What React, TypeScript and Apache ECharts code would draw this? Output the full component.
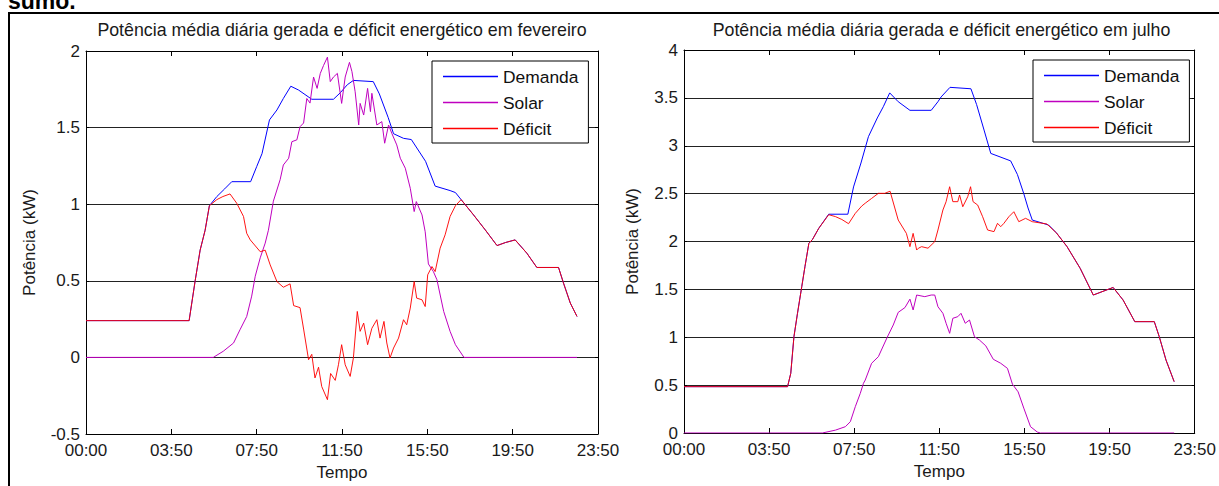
import React, { useEffect, useRef } from 'react';
import * as echarts from 'echarts';

const FONT = '"Liberation Sans", Arial, Helvetica, sans-serif';

// x values are 10-minute samples (0..144)
const xTickLabels = ['00:00', '03:50', '07:50', '11:50', '15:50', '19:50', '23:50'];
const seriesNames = ['Demanda', 'Solar', 'Déficit'];
const seriesColors = ['#0000ff', '#bf00bf', '#ff0000'];
const panelTitles = [
  'Potência média diária gerada e déficit energético em fevereiro',
  'Potência média diária gerada e déficit energético em julho',
];
const yAxisName = 'Potência (kW)';
const xAxisName = 'Tempo';
const yRanges = [
  [-0.5, 2],
  [0, 4],
];

const febDemanda = [
  [0, 0.24], [29, 0.24], [30.7, 0.5], [32.1, 0.7], [33.5, 0.83], [34.7, 0.99], [36.8, 1.05], [39, 1.1],
  [41, 1.147], [46.3, 1.147], [48, 1.245], [49.5, 1.33], [51.6, 1.55], [53.7, 1.615], [55.5, 1.69],
  [57.6, 1.77], [59.8, 1.745], [63.5, 1.685], [69.6, 1.685], [71.5, 1.727], [73.5, 1.78], [75.2, 1.808],
  [80.8, 1.8], [82.5, 1.72], [85, 1.565], [86.5, 1.46], [89.3, 1.43], [91.5, 1.422], [95.5, 1.28],
  [98.2, 1.118], [102.4, 1.089], [103.9, 1.076], [105.5, 1.03], [109, 0.93], [112.3, 0.832], [115.6, 0.73],
  [118, 0.75], [120.7, 0.767], [124, 0.68], [126.8, 0.587], [132.9, 0.587], [134.3, 0.485], [136.2, 0.355],
  [138.1, 0.267],
];

const febSolar = [
  [0, 0], [35.8, 0], [38.6, 0.04], [41.5, 0.094], [43.3, 0.18], [45.2, 0.267], [46.6, 0.4], [47.6, 0.53],
  [49, 0.65], [50.4, 0.746], [51.3, 0.83], [52.7, 1.02], [54.6, 1.16], [55.5, 1.256], [57, 1.3],
  [57.9, 1.408], [59.3, 1.42], [60.2, 1.506], [61.2, 1.53], [62.1, 1.69], [63, 1.66], [64, 1.83],
  [65, 1.756], [65.9, 1.854], [66.8, 1.905], [67.9, 1.96], [68.7, 1.8], [69.6, 1.83], [70.7, 1.854],
  [71.9, 1.658], [72.9, 1.83], [74.1, 1.926], [74.8, 1.865], [75.7, 1.734], [76.7, 1.517], [77.1, 1.658],
  [78.1, 1.582], [79.2, 1.756], [80, 1.604], [80.4, 1.724], [81.8, 1.517], [83.2, 1.539], [84, 1.398],
  [85.1, 1.517], [86, 1.463], [87.4, 1.387], [88.4, 1.3], [89.8, 1.235], [91.2, 1.104], [92.3, 0.952],
  [92.9, 1.017], [94.5, 0.93], [95.4, 0.82], [96.3, 0.61], [97.7, 0.56], [98.7, 0.507], [100.6, 0.3],
  [102.4, 0.17], [103.9, 0.083], [106.3, 0], [138.1, 0],
];

const febDeficit = [
  [0, 0.24], [29, 0.24], [30.7, 0.5], [32.1, 0.7], [33.5, 0.83], [34.7, 0.99], [36.8, 1.03], [38.5, 1.05],
  [40.5, 1.067], [42.4, 1.006], [44.3, 0.92], [45.2, 0.81], [46.2, 0.767], [49, 0.69], [50.4, 0.7],
  [51.8, 0.604], [53.7, 0.495], [55.5, 0.458], [57.4, 0.48], [58.4, 0.338], [60.2, 0.325], [61.2, 0.185],
  [62.6, -0.015], [63.5, 0.02], [64.4, -0.134], [65.4, -0.064], [66.3, -0.19], [67.9, -0.276],
  [68.8, -0.105], [70.1, -0.15], [71, -0.048], [71.9, 0.083], [72.9, -0.048], [74.3, -0.124],
  [75.2, -0.004], [76.3, 0.3], [77.1, 0.17], [78.1, 0.224], [79.2, 0.083], [80.4, 0.19], [81.8, 0.246],
  [82.7, 0.126], [83.8, 0.235], [84.6, 0.094], [85.5, -0.004], [86.5, 0.061], [87.9, 0.126], [89.3, 0.246],
  [90.2, 0.213], [91.2, 0.322], [92.3, 0.495], [93, 0.387], [94.5, 0.376], [95.4, 0.332], [96.1, 0.539],
  [97.3, 0.593], [98.2, 0.56], [99.6, 0.713], [101, 0.8], [102.4, 0.92], [103.9, 0.99], [105.5, 1.03],
  [109, 0.93], [112.3, 0.832], [115.6, 0.73], [118, 0.75], [120.7, 0.767], [124, 0.68], [126.8, 0.587],
  [132.9, 0.587], [134.3, 0.485], [136.2, 0.355], [138.1, 0.267],
];

const julDemanda = [
  [0, 0.484], [29.2, 0.484], [30.1, 0.623], [31, 1.006], [32, 1.25], [33.2, 1.528], [34.1, 1.737],
  [35.2, 1.98], [36.2, 2.02], [38, 2.138], [40.8, 2.285], [46.2, 2.285], [47.8, 2.57], [49.9, 2.82],
  [52, 3.095], [54.5, 3.29], [56.2, 3.408], [58, 3.552], [60.4, 3.46], [63.7, 3.37], [69.7, 3.37],
  [71.6, 3.46], [72.5, 3.51], [75, 3.61], [80.9, 3.595], [82.5, 3.43], [84.6, 3.164], [86.5, 2.92],
  [92.1, 2.842], [94, 2.7], [95.8, 2.5], [97, 2.35], [98.2, 2.224], [102.8, 2.172], [105, 2.09],
  [108, 1.946], [111.7, 1.72], [115.4, 1.441], [121, 1.52], [123.8, 1.389], [127.1, 1.163], [132.6, 1.163],
  [134, 1.006], [135.9, 0.762], [138.2, 0.536],
];

const julSolar = [
  [0, 0], [39, 0], [42.7, 0.03], [45.5, 0.066], [46.9, 0.118], [48.3, 0.275], [49.7, 0.414], [50.6, 0.519],
  [51.1, 0.553], [52.9, 0.728], [54.8, 0.797], [57.3, 1.0], [59, 1.128], [60.4, 1.26], [62.3, 1.31],
  [63.7, 1.398], [64.6, 1.285], [65.6, 1.441], [67.9, 1.424], [69.7, 1.441], [70.7, 1.441], [71.6, 1.319],
  [73, 1.25], [73.9, 1.146], [74.9, 1.041], [75.8, 1.198], [77.2, 1.215], [78.1, 1.25], [79.3, 1.146],
  [80.5, 1.18], [81.9, 1.006], [83.3, 0.971], [85.1, 0.91], [87.2, 0.77], [89.3, 0.728], [91.2, 0.675],
  [92.6, 0.51], [94.2, 0.43], [95.8, 0.26], [97.7, 0.066], [99.6, 0.01], [100.5, 0], [138.2, 0],
];

const julDeficit = [
  [0, 0.484], [29.2, 0.484], [30.1, 0.623], [31, 1.006], [32, 1.25], [33.2, 1.528], [34.1, 1.737],
  [35.2, 1.98], [36.2, 2.02], [38, 2.138], [40.8, 2.28], [42.7, 2.26], [44.5, 2.23], [46.4, 2.186],
  [48.3, 2.294], [50.1, 2.37], [51.1, 2.4], [52.9, 2.45], [54.8, 2.503], [56.6, 2.503], [58.1, 2.525],
  [60.4, 2.224], [62.7, 2.085], [63.7, 1.946], [64.6, 2.085], [65.6, 1.911], [66.1, 1.93], [67, 1.946],
  [68.8, 1.93], [70.7, 1.998], [71.6, 2.12], [73, 2.329], [73.9, 2.416], [74.9, 2.572], [75.8, 2.416],
  [77.2, 2.416], [77.7, 2.486], [78.6, 2.363], [80, 2.468], [80.8, 2.572], [81.5, 2.416], [82.8, 2.381],
  [84.2, 2.259], [85.6, 2.12], [87.4, 2.103], [88.4, 2.19], [89.3, 2.155], [90.2, 2.19], [91.6, 2.259],
  [93, 2.311], [94.4, 2.207], [96.3, 2.242], [98.2, 2.207], [102.3, 2.183], [105, 2.09], [108, 1.946],
  [111.7, 1.72], [115.4, 1.441], [121, 1.52], [123.8, 1.389], [127.1, 1.163], [132.6, 1.163], [134, 1.006],
  [135.9, 0.762], [138.2, 0.536],
];

const panelData = [
  [febDemanda, febSolar, febDeficit],
  [julDemanda, julSolar, julDeficit],
];

export default function App() {
  const ref = useRef<HTMLDivElement>(null);

  useEffect(() => {
    if (!ref.current) return;
    const chart = echarts.init(ref.current, null, { renderer: 'svg' });

    const grids = [
      { left: 86, top: 51, width: 512, height: 383 },
      { left: 684, top: 50, width: 515, height: 383 },
    ];
    const nameGapsY = [48, 43];
    const legendPos = [
      { left: 432, top: 61 },
      { left: 1033, top: 60 },
    ];

    const textBase = { fontFamily: FONT, fontSize: 17, color: '#1a1a1a' };
    const xAxes: any[] = [];
    const yAxes: any[] = [];
    const series: any[] = [];

    grids.forEach((g, i) => {
      xAxes.push({
        gridIndex: i,
        type: 'value',
        min: 0,
        max: 144,
        interval: 24,
        position: 'bottom',
        axisLine: { show: true, onZero: false, lineStyle: { color: '#000', width: 1 } },
        axisTick: { show: true, inside: true, length: 5, lineStyle: { color: '#000' } },
        axisLabel: {
          ...textBase,
          margin: 8,
          formatter: (v: number) => xTickLabels[Math.round(v / 24)] ?? '',
        },
        splitLine: { show: false },
        name: xAxisName,
        nameLocation: 'middle',
        nameGap: 29,
        nameTextStyle: { ...textBase },
      });
      xAxes.push({
        gridIndex: i,
        type: 'value',
        min: 0,
        max: 144,
        interval: 24,
        position: 'top',
        axisLine: { show: true, onZero: false, lineStyle: { color: '#000', width: 1 } },
        axisTick: { show: true, inside: true, length: 5, lineStyle: { color: '#000' } },
        axisLabel: { show: false },
        splitLine: { show: false },
      });
      yAxes.push({
        gridIndex: i,
        type: 'value',
        min: yRanges[i][0],
        max: yRanges[i][1],
        interval: 0.5,
        position: 'left',
        axisLine: { show: true, onZero: false, lineStyle: { color: '#000', width: 1 } },
        axisTick: { show: true, inside: true, length: 3, lineStyle: { color: '#000' } },
        axisLabel: { ...textBase, margin: 6 },
        splitLine: { show: true, lineStyle: { color: '#222', width: 1 } },
        name: yAxisName,
        nameLocation: 'middle',
        nameGap: nameGapsY[i],
        nameTextStyle: { ...textBase },
      });
      yAxes.push({
        gridIndex: i,
        type: 'value',
        min: yRanges[i][0],
        max: yRanges[i][1],
        interval: 0.5,
        position: 'right',
        axisLine: { show: true, onZero: false, lineStyle: { color: '#000', width: 1 } },
        axisTick: { show: true, inside: true, length: 3, lineStyle: { color: '#000' } },
        axisLabel: { show: false },
        splitLine: { show: false },
      });

      seriesNames.forEach((name, j) => {
        series.push({
          type: 'line',
          name,
          xAxisIndex: 2 * i,
          yAxisIndex: 2 * i,
          data: panelData[i][j],
          symbol: 'none',
          showSymbol: false,
          z: 2 + j,
          lineStyle: { color: seriesColors[j], width: 1, opacity: j === 2 ? 0.92 : 1 },
          itemStyle: { color: seriesColors[j] },
          emphasis: { disabled: true },
        });
      });
    });

    const option: any = {
      animation: false,
      backgroundColor: '#fff',
      title: panelTitles.map((t, i) => ({
        text: t,
        left: grids[i].left + grids[i].width / 2,
        top: 21,
        textAlign: 'center',
        padding: 0,
        textStyle: { ...textBase, fontSize: 17.8, fontWeight: 'normal' },
      })),
      grid: grids,
      xAxis: xAxes,
      yAxis: yAxes,
      legend: legendPos.map((p) => ({
        ...p,
        orient: 'vertical',
        data: seriesNames,
        icon: 'path://M0,0H55V1.4H0Z',
        symbolKeepAspect: true,
        itemWidth: 55,
        itemHeight: 17,
        itemGap: 9,
        padding: [7, 10, 6, 11],
        borderColor: '#000',
        borderWidth: 1,
        borderRadius: 0,
        backgroundColor: '#fff',
        selectedMode: false,
        textStyle: { ...textBase, fontSize: 17.4, color: '#111' },
      })),
      series,
      graphic: [
        {
          type: 'line',
          shape: { x1: 8, y1: 13, x2: 1219, y2: 13 },
          style: { stroke: '#000', lineWidth: 2 },
          silent: true,
        },
        {
          type: 'line',
          shape: { x1: 9, y1: 13, x2: 9, y2: 486 },
          style: { stroke: '#000', lineWidth: 2 },
          silent: true,
        },
        {
          type: 'text',
          left: 8,
          top: -11,
          style: { text: 'sumo.', fontFamily: FONT, fontSize: 23, fontWeight: 'bold', fill: '#000' },
          silent: true,
        },
      ],
    };

    chart.setOption(option);
    return () => chart.dispose();
  }, []);

  return (
    <div
      ref={ref}
      style={{ position: 'fixed', left: 0, top: 0, width: 1219, height: 486, background: '#fff' }}
    />
  );
}
